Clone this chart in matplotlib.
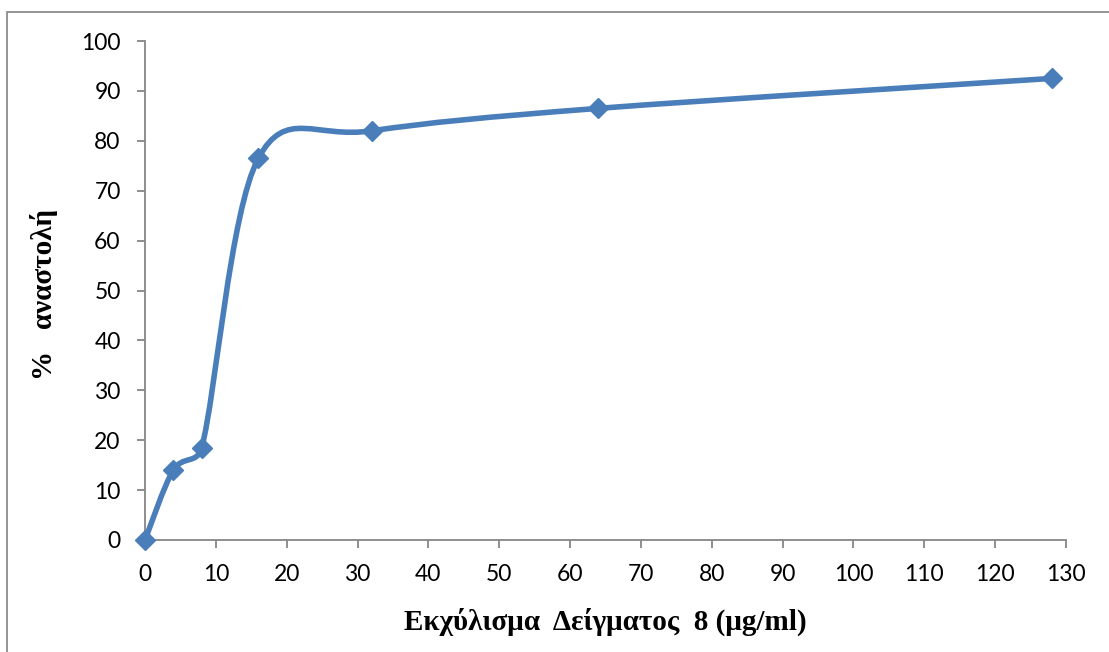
import matplotlib
matplotlib.use("Agg")
import matplotlib.pyplot as plt
from matplotlib.path import Path
from matplotlib.patches import PathPatch, Rectangle
import numpy as np

conc = [0, 4, 8, 16, 32, 64, 128]
inhibition = [0, 14, 18.5, 76.5, 82, 86.5, 92.5]
xticks = list(range(0, 131, 10))
yticks = list(range(0, 101, 10))
xlabel = "Εκχύλισμα  Δείγματος  8 (μg/ml)"
ylabel = "%   αναστολή"

W, H = 1109, 652
fig = plt.figure(figsize=(W / 100, H / 100), dpi=100)
fig.patch.set_facecolor("white")

fig.add_artist(Rectangle((7 / W, -0.05), 1.2, 1 - 12 / H + 0.05, transform=fig.transFigure,
                         fill=False, edgecolor="#8c8c8c", linewidth=1.3))

ax = fig.add_axes([145 / W, 1 - 540 / H, (1066 - 145) / W, (540 - 41) / H])
ax.set_xlim(0, 130)
ax.set_ylim(0, 100)

# Excel-style smoothed line: Catmull-Rom Bezier computed in pixel space,
# with control arms limited to half the segment length
sx = (1066 - 145) / 130.0
sy = (540 - 41) / 100.0
P = np.column_stack([np.array(conc, float) * sx, np.array(inhibition, float) * sy])
n = len(P)

def arm(i, seglen):
    a = P[i - 1] if i > 0 else P[i]
    b = P[i + 1] if i + 1 < n else P[i]
    t = (b - a) / 6.0
    L = np.hypot(*t)
    lim = 0.5 * seglen
    if L > lim and L > 0:
        t = t * lim / L
    return t

verts = [P[0]]
codes = [Path.MOVETO]
for i in range(n - 1):
    seg = np.hypot(*(P[i + 1] - P[i]))
    c1 = P[i] + arm(i, seg)
    c2 = P[i + 1] - arm(i + 1, seg)
    verts += [c1, c2, P[i + 1]]
    codes += [Path.CURVE4] * 3
verts = [(v[0] / sx, v[1] / sy) for v in verts]

color = "#4a7ebb"
ax.add_patch(PathPatch(Path(verts, codes), facecolor="none", edgecolor=color,
                       linewidth=4.0, capstyle="round", joinstyle="round", zorder=3))
ax.plot(conc, inhibition, linestyle="none", marker="D", markersize=9.8,
        color=color, markeredgecolor=color, zorder=4, clip_on=False)

for s in ["top", "right"]:
    ax.spines[s].set_visible(False)
for s in ["left", "bottom"]:
    ax.spines[s].set_color("#868686")
    ax.spines[s].set_linewidth(1.3)

ax.set_xticks(xticks)
ax.set_yticks(yticks)
ax.tick_params(axis="both", direction="out", length=5.5, width=1.3, color="#868686",
               labelsize=16.5, labelcolor="black")
ax.tick_params(axis="x", pad=12)
ax.tick_params(axis="y", pad=12)
for lab in ax.get_xticklabels() + ax.get_yticklabels():
    lab.set_fontfamily("Lato")

ax.set_xlabel(xlabel, fontfamily="Liberation Serif", fontweight="bold", fontsize=21, labelpad=16)
ax.set_ylabel(ylabel, fontfamily="Liberation Serif", fontweight="bold", fontsize=21)
ax.yaxis.set_label_coords(-87 / (1066 - 145), (540 - 294) / (540 - 41))

fig.savefig("out.png", dpi=100, facecolor="white")
